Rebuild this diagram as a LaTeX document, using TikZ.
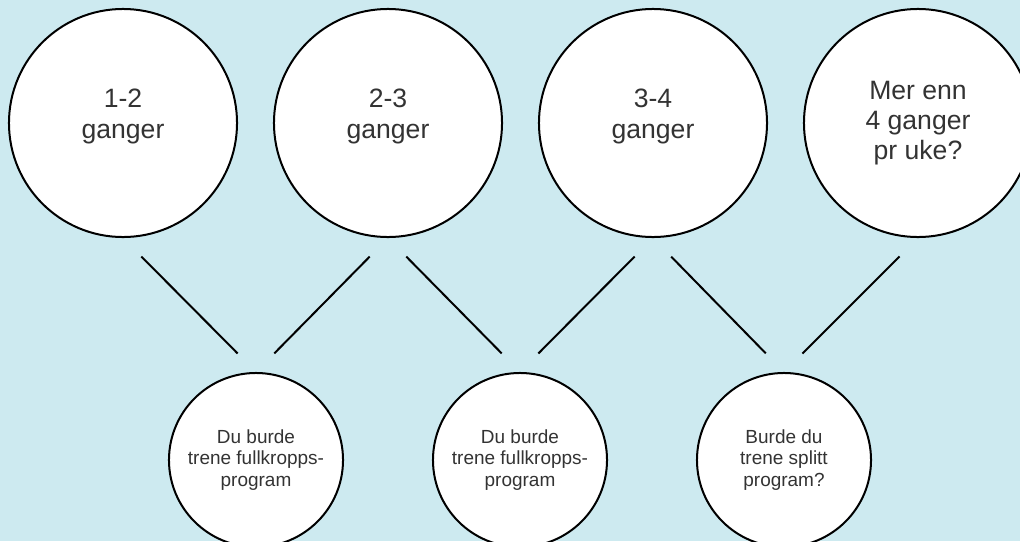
\documentclass[tikz,border=0pt]{standalone}
\usepackage{fontspec}
\setmainfont{Liberation Sans}
\usepackage{tikz}

\definecolor{bgblue}{RGB}{205,234,240}
\definecolor{txtgray}{RGB}{51,51,51}

\begin{document}
\begin{tikzpicture}[x=0.025cm, y=-0.025cm, line width=0.05cm,
  big/.style={circle, draw=black, fill=white, text=txtgray, minimum size=5.7cm, inner sep=0pt, align=center, font=\fontsize{18.9}{21.6}\selectfont},
  twoline/.style={text height=21.6pt, text depth=0pt},
  small/.style={circle, draw=black, fill=white, text=txtgray, minimum size=4.35cm, inner sep=0pt, align=center, font=\fontsize{13.5}{15.3}\selectfont},
  link/.style={draw=black, shorten <=0.65cm, shorten >=0.65cm}]
\useasboundingbox (0,0) rectangle (1020,541);
\clip (0,0) rectangle (1020,541);
\fill[bgblue] (0,0) rectangle (1020,541);
% top row
\node[big, twoline] (C1) at (123,123) {1-2\\ganger};
\node[big, twoline] (C2) at (388,123) {2-3\\ganger};
\node[big, twoline] (C3) at (653,123) {3-4\\ganger};
\node[big] (C4) at (918,123) {Mer enn\\4 ganger\\pr uke?};
% bottom row
\node[small] (S1) at (256,460) {Du burde\\trene fullkropps-\\program};
\node[small] (S2) at (520,460) {Du burde\\trene fullkropps-\\program};
\node[small] (S3) at (784,460) {Burde du\\trene splitt\\program?};
% lines
\draw[link] (C1.south) -- (S1.north);
\draw[link] (C2.south) -- (S1.north);
\draw[link] (C2.south) -- (S2.north);
\draw[link] (C3.south) -- (S2.north);
\draw[link] (C3.south) -- (S3.north);
\draw[link] (C4.south) -- (S3.north);
\end{tikzpicture}
\end{document}
